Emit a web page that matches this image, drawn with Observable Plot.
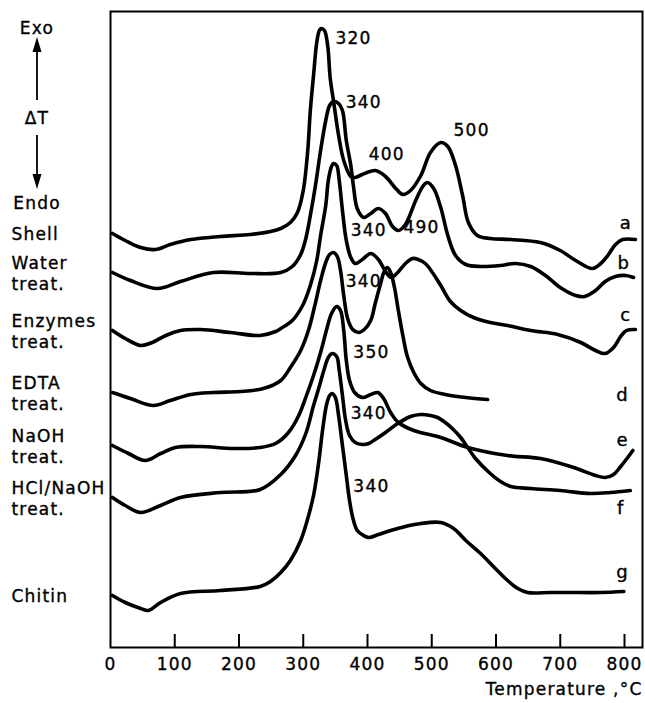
<!DOCTYPE html>
<html><head><meta charset="utf-8">
<script src="https://cdn.jsdelivr.net/npm/d3@7"></script>
<script src="https://cdn.jsdelivr.net/npm/@observablehq/plot@0.6"></script>
<style>
body{margin:0;background:#fff;}
#chart svg{display:block;}
#chart svg text{letter-spacing:1.2px;stroke:#000;stroke-width:0.35px;}
</style></head><body><div id="chart"></div>
<script>
// Temperature (°C) and ΔT (arbitrary units, higher = exo)
const shell = [[3,414],[23,407],[47,400],[70,398],[93,403],[125,408],[171,411],[218,413],[249,416],[265,419],[280,425],[291,435],[300,457],[307,497],[311,537],[316,572],[321,605],[325,617],[328,619],[333,617],[338,602],[342,569],[347,547],[355,512],[363,487],[374,471],[381,470],[392,473],[412,477],[428,471],[444,459],[455,453],[467,457],[483,472],[498,495],[514,505],[525,501],[537,482],[548,452],[557,425],[571,412],[591,409],[623,408],[669,405],[700,397],[724,387],[750,379],[763,384],[774,392],[786,403],[797,408],[817,408]];
const water = [[3,375],[31,367],[73,359],[109,366],[160,375],[218,374],[265,375],[283,381],[296,393],[304,409],[311,432],[319,462],[327,497],[335,527],[341,542],[347,546],[355,544],[361,537],[367,507],[374,482],[378,462],[384,439],[394,430],[405,434],[417,439],[428,434],[439,421],[448,417],[459,423],[475,447],[486,461],[493,465],[503,459],[514,440],[525,412],[537,392],[553,383],[576,381],[607,382],[630,384],[654,381],[677,372],[700,360],[724,352],[738,351],[755,357],[770,366],[786,371],[802,372],[814,370]];
const enzymes = [[3,317],[23,309],[47,302],[65,305],[86,312],[109,317],[140,318],[187,315],[233,312],[257,316],[265,319],[283,327],[299,342],[311,362],[321,387],[327,412],[335,442],[339,467],[344,481],[347,484],[352,482],[356,467],[361,437],[367,407],[374,390],[381,384],[392,388],[405,394],[417,388],[428,376],[437,370],[447,375],[459,384],[470,389],[479,388],[490,384],[501,375],[514,362],[529,346],[545,337],[565,330],[591,325],[618,322],[654,317],[696,313],[732,305],[755,297],[770,294],[783,300],[794,311],[803,317],[817,318]];
const edta = [[3,255],[31,249],[67,242],[93,247],[125,253],[160,255],[202,256],[238,259],[265,267],[280,280],[296,297],[308,317],[318,342],[327,367],[335,385],[341,393],[347,395],[353,391],[358,377],[363,352],[369,329],[377,318],[386,315],[395,318],[405,327],[412,344],[420,363],[426,376],[431,380],[436,375],[442,360],[448,337],[455,312],[462,291],[472,275],[483,264],[498,257],[521,253],[553,250],[587,248]];
const naoh = [[3,202],[28,194],[54,187],[78,194],[101,200],[140,201],[191,199],[233,200],[257,204],[277,215],[293,232],[305,252],[316,272],[327,295],[336,317],[344,334],[352,341],[358,337],[363,317],[367,287],[372,267],[380,255],[392,250],[405,253],[416,255],[425,249],[436,235],[448,225],[472,217],[514,210],[556,200],[618,192],[669,189],[721,180],[755,172],[770,170],[783,173],[794,181],[805,190],[813,197]];
const hclNaoh = [[3,150],[23,142],[47,135],[78,142],[109,150],[171,155],[233,158],[265,173],[288,192],[304,214],[316,242],[324,259],[332,277],[339,290],[345,294],[352,291],[356,277],[361,252],[366,227],[372,212],[381,205],[392,203],[402,204],[412,208],[428,215],[447,224],[467,231],[483,233],[498,232],[509,230],[521,225],[532,219],[545,210],[556,200],[568,189],[591,174],[607,166],[623,161],[654,159],[700,157],[747,154],[778,155],[809,157]];
const chitin = [[3,52],[23,45],[47,39],[59,37],[78,45],[109,54],[171,57],[233,61],[249,66],[265,75],[280,87],[296,107],[307,129],[316,152],[324,185],[330,217],[336,242],[341,252],[345,254],[350,250],[355,232],[361,202],[367,172],[372,147],[377,130],[384,117],[394,112],[402,110],[417,113],[436,117],[459,121],[483,124],[514,125],[534,119],[553,107],[576,94],[599,79],[618,67],[634,59],[649,55],[685,55],[716,55],[763,55],[799,56]];

const curveKeys = ["a","b","c","d","e","f","g"];
const curveNames = ["Shell","Water\ntreat.","Enzymes\ntreat.","EDTA\ntreat.","NaOH\ntreat.","HCl/NaOH\ntreat.","Chitin"];
const curveData = [shell, water, enzymes, edta, naoh, hclNaoh, chitin];

// curve letters at the right
const letterT = [802, 799, 802, 797, 797, 794, 797];
const letterV = [424, 384, 332, 252, 207, 139, 75];

// peak temperature annotations
const peakText = ["320","340","400","500","340","490","340","350","340","340"];
const peakT = [350, 366, 402, 534, 374, 456, 366, 378, 374, 378];
const peakV = [609, 545, 493, 517, 417, 420, 366, 295, 234, 161];

const xTicks = [0, 100, 200, 300, 400, 500, 600, 700, 800];
const xTitle = "Temperature ,°C";

const rows = curveData.flatMap((pts, i) => pts.map(([T, v]) => ({key: curveKeys[i], T, v})));
const sideLabels = curveData.map((pts, i) => ({name: curveNames[i], v: pts[0][1]}));
const letters = curveKeys.map((k, i) => ({k, T: letterT[i], v: letterV[i]}));
const peaks = peakText.map((t, i) => ({t, T: peakT[i], v: peakV[i]}));

const FONT = "DejaVu Sans";
const plot = Plot.plot({
  width: 645, height: 703,
  marginLeft: 110, marginRight: 3, marginTop: 11, marginBottom: 56,
  style: {fontFamily: FONT, fontSize: "17px", color: "#000", background: "#fff"},
  x: {domain: [0, 828]},
  y: {domain: [0, 636], axis: null},
  marks: [
    Plot.frame({stroke: "#000", strokeWidth: 2}),
    Plot.ruleX(xTicks.slice(1), {x: d => d, insetTop: 623, stroke: "#000", strokeWidth: 2}),
    Plot.line(rows, {x: "T", y: "v", z: "key", curve: "catmull-rom", stroke: "#000", strokeWidth: 3.6, strokeLinejoin: "round", strokeLinecap: "round"}),
    Plot.axisX({ticks: xTicks, tickSize: 0, tickPadding: 10, fontSize: 17, label: null}),
    Plot.text(peaks, {x: "T", y: "v", text: "t", textAnchor: "start", fontSize: 17}),
    Plot.text(letters, {x: "T", y: "v", text: "k", fontSize: 18}),
    Plot.text(sideLabels, {y: "v", text: "name", frameAnchor: "left", dx: -99, textAnchor: "start", lineHeight: 1.24, fontSize: 17}),
    Plot.text([xTitle], {text: d => d, frameAnchor: "bottom-right", dy: 47, textAnchor: "end", fontSize: 17})
  ]
});
document.getElementById("chart").append(plot);

// Exo / ΔT / Endo indicator in the left margin
const g = d3.select(plot).append("g").attr("fill", "#000").attr("font-family", FONT).attr("font-size", 17).attr("text-anchor", "middle");
g.append("text").attr("x", 37).attr("y", 28).attr("dy", "0.35em").text("Exo");
g.append("line").attr("x1", 37).attr("x2", 37).attr("y1", 100).attr("y2", 48).attr("stroke", "#000").attr("stroke-width", 1.8);
g.append("path").attr("d", "M37,37 L32.5,52 L41.5,52 Z");
g.append("text").attr("x", 37).attr("y", 118).attr("dy", "0.35em").text("ΔT");
g.append("line").attr("x1", 37).attr("x2", 37).attr("y1", 135).attr("y2", 176).attr("stroke", "#000").attr("stroke-width", 1.8);
g.append("path").attr("d", "M37,189 L32.5,174 L41.5,174 Z");
g.append("text").attr("x", 37).attr("y", 203).attr("dy", "0.35em").text("Endo");
</script>
</body></html>
